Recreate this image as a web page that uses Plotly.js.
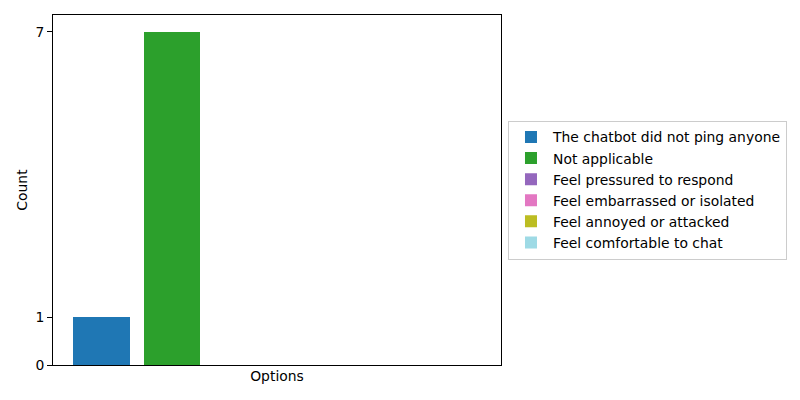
<!DOCTYPE html>
<html>
<head>
<meta charset="utf-8">
<script src="https://cdn.plot.ly/plotly-3.0.1.min.js"></script>
<style>html,body{margin:0;padding:0;background:#fff}#chart{width:800px;height:400px}</style>
</head>
<body>
<div id="chart"></div>
<script>
const categories = [
  "The chatbot did not ping anyone",
  "Not applicable",
  "Feel pressured to respond",
  "Feel embarrassed or isolated",
  "Feel annoyed or attacked",
  "Feel comfortable to chat"
];
const counts = [1, 7, 0, 0, 0, 0];
const colors = ["#1f77b4", "#2ca02c", "#9467bd", "#e377c2", "#bcbd22", "#9edae5"];
const yTicks = [0, 1, 7];

const traces = categories.map((c, i) => ({
  type: "bar",
  x: [i],
  y: [counts[i]],
  width: [0.8],
  name: c,
  marker: {color: colors[i], line: {width: 0}},
  showlegend: true,
  hoverinfo: "skip"
}));

const font = {family: "DejaVu Sans", size: 13.9, color: "#000"};
const layout = {
  width: 800, height: 400,
  margin: {l: 53, r: 299, t: 15, b: 35, pad: 0},
  paper_bgcolor: "#fff", plot_bgcolor: "#fff",
  font: font,
  bargap: 0, barmode: "overlay",
  xaxis: {
    range: [-0.69, 5.69], showticklabels: false, ticks: "", showgrid: false, zeroline: false,
    showline: true, mirror: true, linecolor: "#000", linewidth: 1,
    title: {text: "Options", font: font, standoff: 6}
  },
  yaxis: {
    range: [0, 7.35], tickvals: yTicks, ticktext: yTicks.map(String),
    ticks: "outside", ticklen: 5, tickcolor: "#000", tickwidth: 1,
    showgrid: false, zeroline: false,
    showline: true, mirror: true, linecolor: "#000", linewidth: 1,
    title: {text: "Count", font: font, standoff: 4}
  },
  legend: {
    x: 1.0156, xanchor: "left", y: 0.5, yanchor: "middle",
    bordercolor: "#cccccc", borderwidth: 1, bgcolor: "#fff",
    font: font, traceorder: "normal", itemwidth: 34
  }
};
Plotly.newPlot("chart", traces, layout, {displayModeBar: false, staticPlot: true});
</script>
</body>
</html>
